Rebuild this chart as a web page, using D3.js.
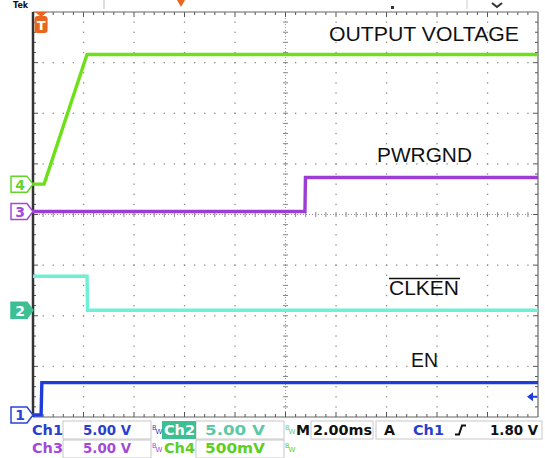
<!DOCTYPE html>
<html><head><meta charset="utf-8">
<script src="https://cdn.jsdelivr.net/npm/d3@7"></script>
<style>
html,body{margin:0;padding:0;background:#fff;}
svg{display:block;}
</style></head>
<body>
<script>
// ---- data (time in ms relative to trigger, values in volts) ----
const timeDomain = [-0.32, 19.68];          // 10 div x 2.00 ms
const voutTime  = [-0.32, 0.12, 1.82, 19.68];
const voutVolts = [0, 0, 1.28, 1.28];
const pgTime    = [-0.32, 10.45, 10.47, 19.68];
const pgVolts   = [0, 0, 3.35, 3.35];
const clkTime   = [-0.32, 1.82, 1.84, 19.68];
const clkVolts  = [3.35, 3.35, 0, 0];
const enTime    = [-0.32, 0.0, 0.03, 19.68];
const enVolts   = [0, 0, 3.2, 3.2];
const channelNames = ["1", "2", "3", "4"];
const voltsPerDiv  = [5, 5, 5, 0.5];
const offsetDiv    = [-3.96, -1.89, 0.06, 0.60];
const traceLabels  = ["EN", "CLKEN", "PWRGND", "OUTPUT VOLTAGE"];
const statusRow1 = ["Ch1", "5.00 V", "Ch2", "5.00 V", "M", "2.00ms", "A", "Ch1", "1.80 V"];
const statusRow2 = ["Ch3", "5.00 V", "Ch4", "500mV"];

const W = 545, H = 458;
const L = 33, R = 538, T = 12, B = 417;
const svg = d3.select("body").append("svg").attr("width", W).attr("height", H);
svg.append("rect").attr("width", W).attr("height", H).attr("fill", "#fff");

const x = d3.scaleLinear().domain(timeDomain).range([L, R]);
const divW = (R - L) / 10, divH = (B - T) / 8;
const cx = (L + R) / 2, cy = (T + B) / 2;
function yScale(ch) {
  const s = voltsPerDiv[ch], o = offsetDiv[ch];
  return d3.scaleLinear().domain([-(4 + o) * s, (4 - o) * s]).range([B, T]);
}
const colors = ["#1e3cdc", "#6ef0d4", "#9c3ed6", "#6ee01a"];
const tagColors = ["#2a44d8", "#3dbf93", "#a24ad8", "#62d42a"];

// ---- graticule ----
const g = svg.append("g");
const dotColor = "#8a8a8a";
for (let i = 1; i < 10; i++) {
  if (i === 5) continue;
  const xx = L + i * divW;
  for (let j = 1; j < 40; j++) {
    g.append("rect").attr("x", xx - 0.6).attr("y", T + j * divH / 5 - 0.6).attr("width", 1.3).attr("height", 1.3).attr("fill", dotColor);
  }
}
for (let j = 1; j < 8; j++) {
  if (j === 4) continue;
  const yy = T + j * divH;
  for (let i = 1; i < 50; i++) {
    g.append("rect").attr("x", L + i * divW / 5 - 0.6).attr("y", yy - 0.6).attr("width", 1.3).attr("height", 1.3).attr("fill", dotColor);
  }
}
// center cross
g.append("line").attr("x1", L).attr("x2", R).attr("y1", cy).attr("y2", cy).attr("stroke", "#999").attr("stroke-width", 1).attr("stroke-dasharray", "1,2");
g.append("line").attr("y1", T).attr("y2", B).attr("x1", cx).attr("x2", cx).attr("stroke", "#999").attr("stroke-width", 1).attr("stroke-dasharray", "1,2");
for (let i = 1; i < 50; i++) {
  const xx = L + i * divW / 5;
  g.append("line").attr("x1", xx).attr("x2", xx).attr("y1", cy - 2.5).attr("y2", cy + 2.5).attr("stroke", "#888");
}
for (let j = 1; j < 40; j++) {
  const yy = T + j * divH / 5;
  g.append("line").attr("y1", yy).attr("y2", yy).attr("x1", cx - 2.5).attr("x2", cx + 2.5).attr("stroke", "#888");
}
// border ticks
for (let i = 1; i < 50; i++) {
  const xx = L + i * divW / 5;
  const len = (i % 5 === 0) ? 5 : 3;
  g.append("line").attr("x1", xx).attr("x2", xx).attr("y1", T).attr("y2", T + len).attr("stroke", "#555");
  g.append("line").attr("x1", xx).attr("x2", xx).attr("y1", B).attr("y2", B - len).attr("stroke", "#555");
}
for (let j = 1; j < 40; j++) {
  const yy = T + j * divH / 5;
  const len = (j % 5 === 0) ? 5 : 3;
  g.append("line").attr("y1", yy).attr("y2", yy).attr("x1", L).attr("x2", L + len).attr("stroke", "#555");
  g.append("line").attr("y1", yy).attr("y2", yy).attr("x1", R).attr("x2", R - len).attr("stroke", "#555");
}
g.append("line").attr("x1", L).attr("x2", R).attr("y1", T).attr("y2", T).attr("stroke", "#666").attr("stroke-width", 1.2);
g.append("line").attr("x1", R).attr("x2", R).attr("y1", T).attr("y2", B).attr("stroke", "#666").attr("stroke-width", 1.2);
g.append("line").attr("x1", L).attr("x2", R).attr("y1", B).attr("y2", B).attr("stroke", "#666").attr("stroke-width", 1.2);
g.append("line").attr("x1", L).attr("x2", L).attr("y1", T).attr("y2", B).attr("stroke", "#333").attr("stroke-width", 2.5);

// ---- traces ----
const series = [
  {ch: 0, t: enTime, v: enVolts},
  {ch: 1, t: clkTime, v: clkVolts},
  {ch: 2, t: pgTime, v: pgVolts},
  {ch: 3, t: voutTime, v: voutVolts}
];
series.forEach(s => {
  const ys = yScale(s.ch);
  const line = d3.line().x(d => x(d[0])).y(d => ys(d[1]));
  const pts = s.t.map((t, i) => [t, s.v[i]]);
  svg.append("path").attr("d", line(pts)).attr("fill", "none")
    .attr("stroke", colors[s.ch]).attr("stroke-width", 3.4).attr("stroke-linejoin", "miter");
});

// ---- channel ground markers ----
channelNames.forEach((name, ch) => {
  const yy = yScale(ch)(0);
  const filled = ch === 1;
  svg.append("path")
    .attr("d", `M11,${yy - 8} H27 L33,${yy} L27,${yy + 8} H11 Z`)
    .attr("fill", filled ? tagColors[ch] : "#fff")
    .attr("stroke", tagColors[ch]).attr("stroke-width", 1.5);
  svg.append("text").attr("x", 20).attr("y", yy + 5.5).attr("text-anchor", "middle")
    .attr("font-family", "DejaVu Sans, sans-serif").attr("font-weight", "bold").attr("font-size", 14)
    .attr("fill", filled ? "#fff" : tagColors[ch]).text(name);
});

// trigger position marker (T)
const tx = x(0);
svg.append("path").attr("d", `M${tx - 6},12 H${tx + 6} L${tx},17 Z`).attr("fill", "#e8661e");
svg.append("rect").attr("x", tx - 6.5).attr("y", 16).attr("width", 13).attr("height", 17).attr("rx", 3).attr("fill", "#e8661e");
svg.append("text").attr("x", tx).attr("y", 30).attr("text-anchor", "middle").attr("font-family", "DejaVu Sans, sans-serif")
  .attr("font-weight", "bold").attr("font-size", 13).attr("fill", "#fff").text("T");

// trigger level marker on right
const trigY = yScale(0)(1.8);
svg.append("path").attr("d", `M${R - 11},${trigY} L${R - 5},${trigY - 4.5} L${R - 5},${trigY + 4.5} Z`).attr("fill", "#1e3cdc");
svg.append("line").attr("x1", R - 6).attr("x2", R - 1).attr("y1", trigY).attr("y2", trigY).attr("stroke", "#1e3cdc").attr("stroke-width", 2);

// top remnants
svg.append("text").attr("x", 13).attr("y", 8).attr("font-family", "DejaVu Sans, sans-serif").attr("font-weight", "bold")
  .attr("font-size", 8).attr("fill", "#111").text("Tek");
svg.append("path").attr("d", `M177,0 H185 L181,7 Z`).attr("fill", "#e8661e");
svg.append("line").attr("x1", 104).attr("x2", 104).attr("y1", 0).attr("y2", 9).attr("stroke", "#bbb");
svg.append("line").attr("x1", 467).attr("x2", 467).attr("y1", 0).attr("y2", 9).attr("stroke", "#ccc");
svg.append("path").attr("d", `M492,3 L497,7 L502,3`).attr("fill", "none").attr("stroke", "#333").attr("stroke-width", 2);
svg.append("rect").attr("x", 391).attr("y", 6).attr("width", 3).attr("height", 3).attr("fill", "#333");

// ---- trace labels ----
const lab = [
  {ch: 3, x: 329, y: 41, w: 190},
  {ch: 2, x: 377, y: 162, w: 95},
  {ch: 1, x: 389, y: 295, w: 70},
  {ch: 0, x: 411, y: 367, w: 27}
];
lab.forEach(d => {
  svg.append("text").attr("x", d.x).attr("y", d.y)
    .attr("font-family", "Liberation Sans, Arial, sans-serif").attr("font-size", 20)
    .attr("textLength", d.w).attr("lengthAdjust", "spacingAndGlyphs")
    .attr("fill", "#111").text(traceLabels[d.ch]);
});
svg.append("line").attr("x1", 389).attr("x2", 460).attr("y1", 278.5).attr("y2", 278.5).attr("stroke", "#111").attr("stroke-width", 1.3);

// ---- status bar ----
const st = svg.append("g").attr("font-family", "DejaVu Sans, sans-serif").attr("font-weight", "bold").attr("font-size", 13.5);
function box(x0, y0, w, h) {
  st.append("rect").attr("x", x0).attr("y", y0).attr("width", w).attr("height", h).attr("fill", "none").attr("stroke", "#c8c8c8").attr("stroke-width", 1);
}
function txt(s, xx, yy, c, extra) {
  const t = st.append("text").attr("x", xx).attr("y", yy).attr("fill", c).text(s);
  if (extra) t.attr("textLength", extra).attr("lengthAdjust", "spacingAndGlyphs");
  return t;
}
function bw(xx, yy, c) {
  st.append("text").attr("x", xx).attr("y", yy - 4).attr("font-size", 6.5).attr("font-weight", "normal").attr("fill", c).text("B");
  st.append("text").attr("x", xx + 3.5).attr("y", yy).attr("font-size", 7).attr("font-weight", "normal").attr("fill", c).text("W");
}
const r1 = 434.5, r2 = 452.5;
box(63, 421, 88, 18); box(63, 440, 88, 18);
box(196, 421, 88, 18); box(196, 440, 88, 18);
box(311, 421, 62, 18);
box(376, 421, 166, 18);
st.append("rect").attr("x", 162).attr("y", 421).attr("width", 34).attr("height", 18).attr("fill", "#3dbf93");
txt(statusRow1[0], 32, r1, "#2a3fcf", 31);
txt(statusRow1[1], 83, r1, "#2a3fcf", 48);
bw(152, r1 - 1, "#2a3fcf");
txt(statusRow1[2], 164, r1, "#fff", 31);
txt(statusRow1[3], 205, r1, "#5cc9a6", 60);
bw(285, r1 - 1, "#5cc9a6");
txt(statusRow1[4], 296, r1, "#111", 14);
txt(statusRow1[5], 313, r1, "#111", 59);
txt(statusRow1[6], 384, r1, "#111", 11);
txt(statusRow1[7], 413, r1, "#2a3fcf", 31);
st.append("path").attr("d", `M455,${r1} H459 L462,${r1 - 9} H466`).attr("fill", "none").attr("stroke", "#111").attr("stroke-width", 2);
txt(statusRow1[8], 490, r1, "#111", 48);
txt(statusRow2[0], 32, r2, "#a24ad8", 31);
txt(statusRow2[1], 83, r2, "#a24ad8", 48);
bw(152, r2 - 1, "#a24ad8");
txt(statusRow2[2], 164, r2, "#5ccf22", 31);
txt(statusRow2[3], 205, r2, "#5ccf22", 60);
bw(285, r2 - 1, "#5ccf22");
</script>
</body></html>
